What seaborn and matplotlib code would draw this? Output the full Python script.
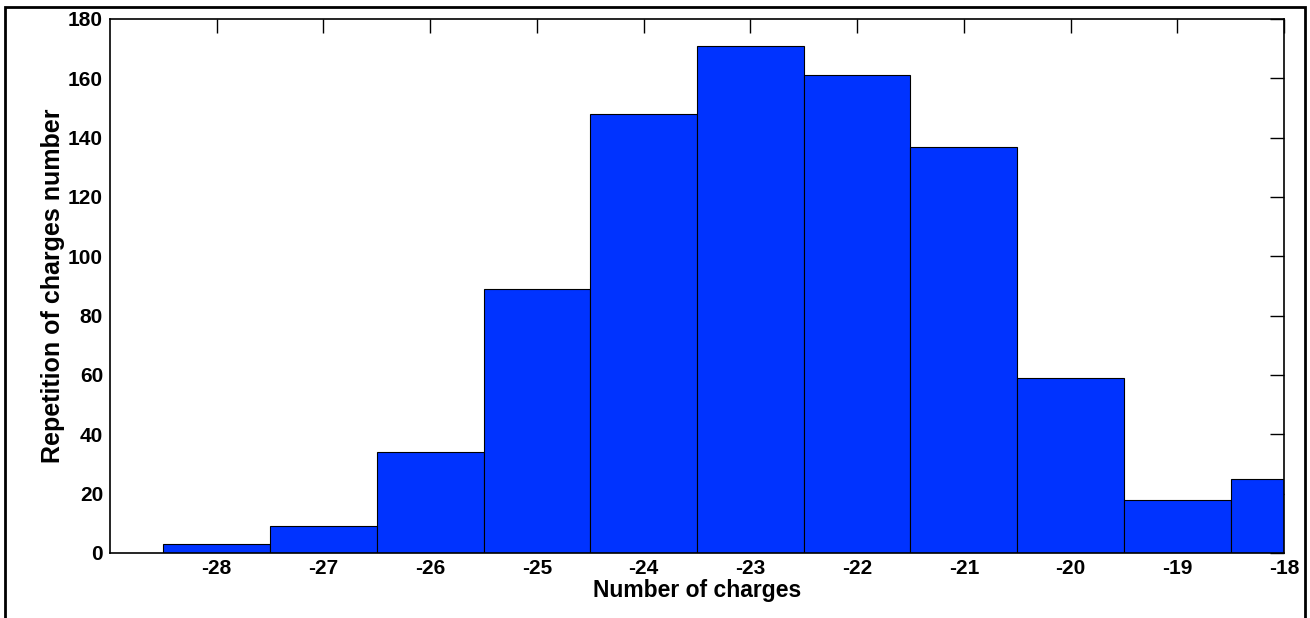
import matplotlib
matplotlib.use("Agg")
import matplotlib.pyplot as plt
import seaborn as sns
import pandas as pd
from matplotlib.patches import Rectangle

# histogram of charge numbers
charges = [-28, -27, -26, -25, -24, -23, -22, -21, -20, -19, -18]
counts = [3, 9, 34, 89, 148, 171, 161, 137, 59, 18, 25]
xticks = list(range(-28, -17))
yticks = list(range(0, 181, 20))

sns.set_style("white", {'text.color': 'black', 'axes.labelcolor': 'black',
                        'xtick.color': 'black', 'ytick.color': 'black',
                        'axes.edgecolor': 'black'})
plt.rcParams['font.family'] = ['Liberation Sans', 'DejaVu Sans']
plt.rcParams['font.weight'] = 'bold'
plt.rcParams['axes.unicode_minus'] = False

df = pd.DataFrame({'charge': charges, 'count': counts})

fig = plt.figure(figsize=(13.1, 6.18), dpi=100)
ax = fig.add_axes([110/1310, 1 - 553/618, (1284 - 110)/1310, (553 - 19)/618])

sns.histplot(data=df, x='charge', weights='count', discrete=True,
             color='#0033ff', alpha=1, edgecolor='black', linewidth=0.8, ax=ax)

ax.set_xlim(-29, -18)
ax.set_ylim(0, 180)
ax.set_xticks(xticks)
ax.set_yticks(yticks)
ax.tick_params(direction='in', length=10, width=1, top=True, right=True,
               labelsize=15)
ax.tick_params(axis='x', pad=4)
ax.tick_params(axis='y', pad=5)
for lab in ax.get_xticklabels() + ax.get_yticklabels():
    lab.set_fontweight('bold')
for s in ax.spines.values():
    s.set_linewidth(1.2)
    s.set_color('black')

ax.set_xlabel('Number of charges', fontsize=16.5, fontweight='bold', labelpad=1)
ax.set_ylabel('Repetition of charges number', fontsize=18, fontweight='bold', labelpad=2)

# outer frame around the figure
fig.patches.append(Rectangle((5/1310, -0.01), 1300/1310, 1 - 7/618 + 0.01,
                             transform=fig.transFigure, fill=False,
                             edgecolor='black', linewidth=2))

fig.savefig('out.png', dpi=100)
